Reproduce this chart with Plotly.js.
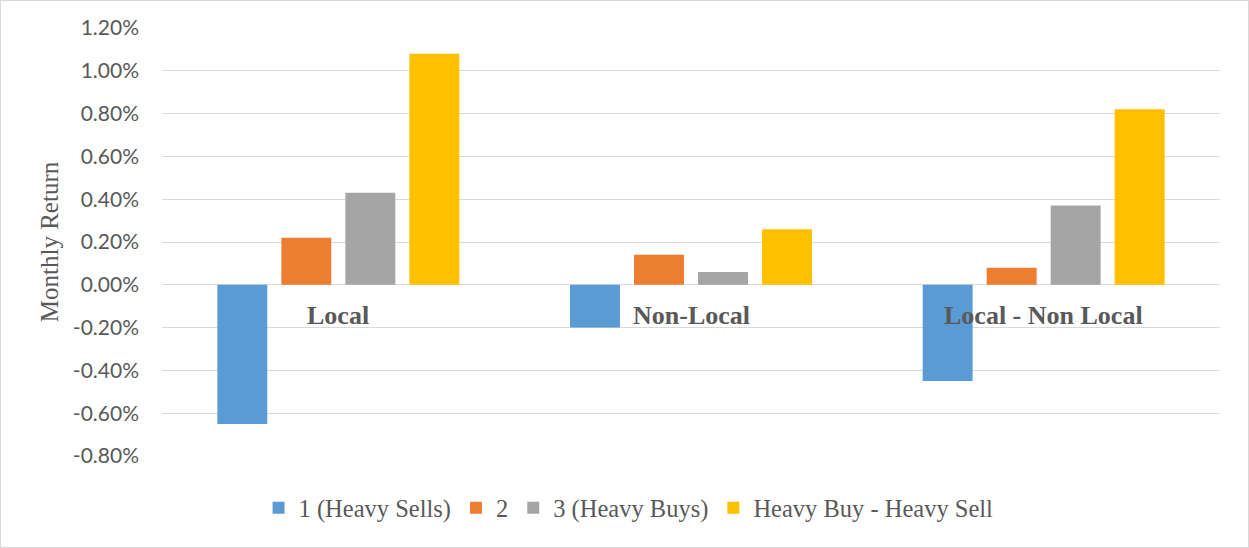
<!DOCTYPE html>
<html>
<head>
<meta charset="utf-8">
<script src="https://cdn.plot.ly/plotly-3.0.1.min.js"></script>
<style>
  html, body { margin: 0; padding: 0; background: #fff; }
  #chart { width: 1247px; height: 546px; border: 1px solid #d9d9d9; }
</style>
</head>
<body>
<div id="chart"></div>
<script>
// Data (monthly returns, as fractions)
const categories = ["Local", "Non-Local", "Local - Non Local"];
const seriesNames = ["1 (Heavy Sells)", "2", "3 (Heavy Buys)", "Heavy Buy - Heavy Sell"];
const heavySells = [-0.0065, -0.0020, -0.0045];
const mid2 = [0.0022, 0.0014, 0.0008];
const heavyBuys = [0.0043, 0.0006, 0.0037];
const buyMinusSell = [0.0108, 0.0026, 0.0082];
const tickVals = [-0.008, -0.006, -0.004, -0.002, 0, 0.002, 0.004, 0.006, 0.008, 0.010, 0.012];
const tickText = ["-0.80%", "-0.60%", "-0.40%", "-0.20%", "0.00%", "0.20%", "0.40%", "0.60%", "0.80%", "1.00%", "1.20%"];

const colors = ["#5B9BD5", "#ED7D31", "#A5A5A5", "#FFC000"];
const seriesValues = [heavySells, mid2, heavyBuys, buyMinusSell];

const traces = seriesValues.map((vals, i) => ({
  type: "bar",
  name: seriesNames[i],
  x: categories,
  y: vals,
  marker: { color: colors[i] },
  hoverinfo: "skip"
}));

const labelFont = { family: "Liberation Serif, serif", size: 26, color: "#595959" };

const annotations = categories.map(c => ({
  x: c, y: 0, xref: "x", yref: "y",
  text: "<b>" + c + "</b>",
  showarrow: false,
  yanchor: "middle",
  yshift: -31,
  font: labelFont
}));

const layout = {
  width: 1247,
  height: 546,
  margin: { l: 161, r: 28, t: 27, b: 91 },
  paper_bgcolor: "#ffffff",
  plot_bgcolor: "#ffffff",
  barmode: "group",
  bargap: 0.274,
  bargroupgap: 0.22,
  showlegend: true,
  legend: {
    orientation: "h",
    x: 0.441, xanchor: "center",
    y: -0.121, yanchor: "middle",
    font: { family: "Liberation Serif, serif", size: 24.5, color: "#595959" },
    traceorder: "normal",
    itemwidth: 30
  },
  xaxis: {
    showticklabels: false,
    showgrid: false,
    zeroline: false,
    showline: false,
    ticks: ""
  },
  yaxis: {
    range: [-0.008, 0.012],
    tickvals: tickVals,
    ticktext: tickText,
    showgrid: true,
    gridcolor: "#d9d9d9",
    gridwidth: 1,
    zeroline: true,
    zerolinecolor: "#d9d9d9",
    zerolinewidth: 1,
    showline: false,
    ticks: "",
    ticklabelstandoff: 22,
    tickfont: { family: "Lato, Open Sans, sans-serif", size: 21, color: "#595959" },
    title: {
      text: "Monthly Return",
      font: { family: "Liberation Serif, serif", size: 25, color: "#595959" },
      standoff: 7
    }
  },
  annotations: annotations
};

Plotly.newPlot("chart", traces, layout, { displayModeBar: false, staticPlot: true });
</script>
</body>
</html>
